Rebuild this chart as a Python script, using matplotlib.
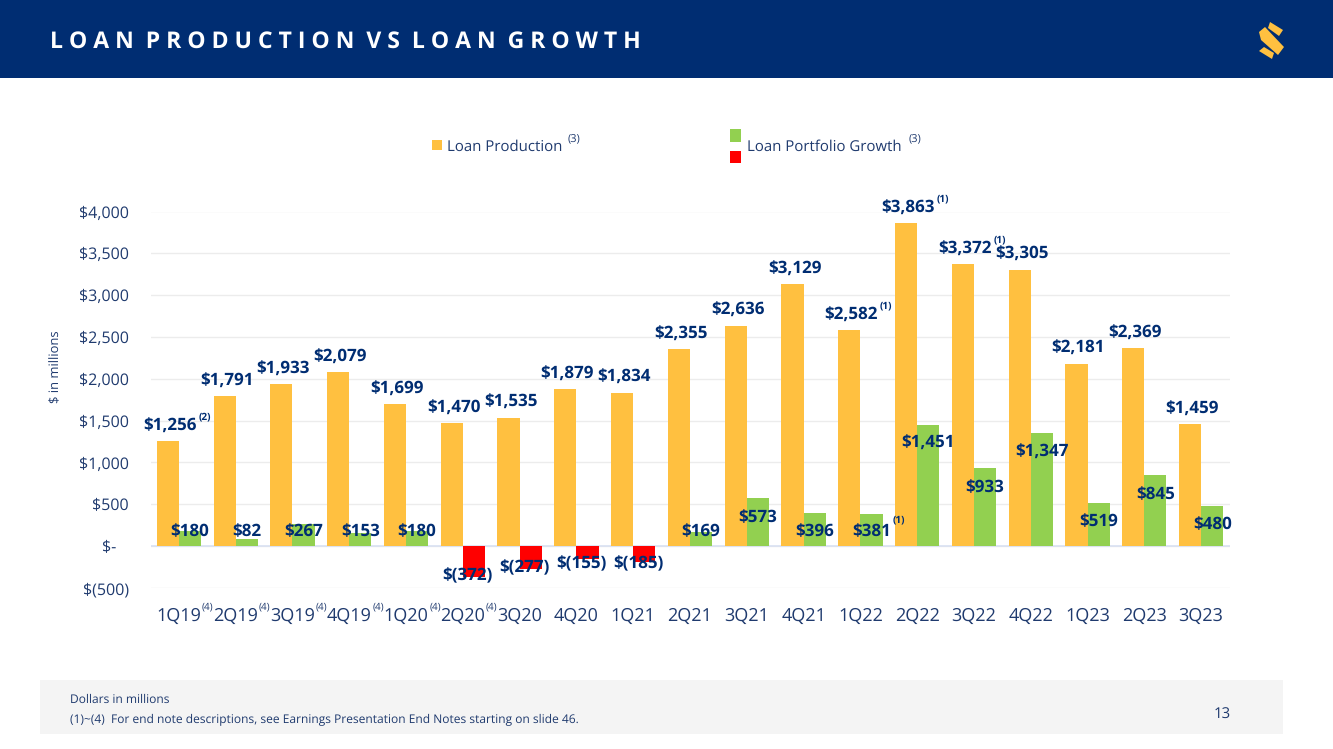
import matplotlib
matplotlib.use('Agg')
from matplotlib import pyplot as plt
from matplotlib.patches import Rectangle, Polygon

plt.rcParams['font.family'] = ['Open Sans', 'DejaVu Sans']
plt.rcParams['text.hinting'] = 'no_hinting'
plt.rcParams['text.hinting_factor'] = 1

#Chart data
quarters = ['1Q19', '2Q19', '3Q19', '4Q19', '1Q20', '2Q20', '3Q20', '4Q20', '1Q21', '2Q21',
            '3Q21', '4Q21', '1Q22', '2Q22', '3Q22', '4Q22', '1Q23', '2Q23', '3Q23']
production = [1256, 1791, 1933, 2079, 1699, 1470, 1535, 1879, 1834, 2355,
              2636, 3129, 2582, 3863, 3372, 3305, 2181, 2369, 1459]
growth = [180, 82, 267, 153, 180, -372, -277, -155, -185, 169,
          573, 396, 381, 1451, 933, 1347, 519, 845, 480]
y_ticks = [-500, 0, 500, 1000, 1500, 2000, 2500, 3000, 3500, 4000]
y_labels = ['$(500)', '$-   ', '$500', '$1,000', '$1,500', '$2,000', '$2,500', '$3,000', '$3,500', '$4,000']
production_notes = {'1Q19': '(2)', '1Q22': '(1)', '2Q22': '(1)', '3Q22': '(1)'}
quarter_notes = ['1Q19', '2Q19', '3Q19', '4Q19', '1Q20', '2Q20']

#Colors
navy = '#002D72'
text_blue = '#1F3A6E'
orange = '#FFC040'
green = '#92D050'
red = '#FF0000'

W, H = 1333, 749
fig = plt.figure(figsize=(W / 100, H / 100), dpi=100, facecolor='white')

#Overlay in pixel coordinates for the slide furniture
slide = fig.add_axes([0, 0, 1, 1])
slide.set_xlim(0, W)
slide.set_ylim(H, 0)
slide.axis('off')

slide.add_patch(Rectangle((0, 0), W, 78, color=navy, lw=0))
slide.text(50, 41.5, 'L O A N  P R O D U C T I O N  V S  L O A N  G R O W T H', color='white',
           fontsize=16.5, fontweight='bold', va='center', ha='left')

#Logo
for pts in ([(1270, 22), (1283, 30), (1279, 36), (1268, 28)],
            [(1259, 32), (1265, 27), (1284, 47), (1278, 55), (1261, 40)],
            [(1259, 51), (1264, 47), (1274, 53), (1272, 59)]):
    slide.add_patch(Polygon(pts, closed=True, color=orange, lw=0))

#Legend
slide.add_patch(Rectangle((432, 140), 10, 10, color=orange, lw=0))
slide.text(447, 147, 'Loan Production', color=text_blue, fontsize=10.9, va='center')
slide.text(568, 139, '(3)', color=text_blue, fontsize=8, va='center')
slide.add_patch(Rectangle((730, 129), 11, 13, color=green, lw=0))
slide.add_patch(Rectangle((730, 151), 11, 12, color=red, lw=0))
slide.text(747, 147, 'Loan Portfolio Growth', color=text_blue, fontsize=10.9, va='center')
slide.text(909, 139, '(3)', color=text_blue, fontsize=8, va='center')

#Footer
slide.add_patch(Rectangle((40, 680), 1243, 54, color='#F4F4F4', lw=0))
slide.text(70, 700, 'Dollars in millions', color=text_blue, fontsize=8.5, va='center')
slide.text(70, 720, '(1)~(4)  For end note descriptions, see Earnings Presentation End Notes starting on slide 46.',
           color=text_blue, fontsize=8.5, va='center')
slide.text(1222, 715, '13', color=text_blue, fontsize=11, va='center', ha='center')

slide.text(55.5, 367, '$ in millions', color=text_blue, fontsize=9.5, rotation=90, va='center', ha='center')

#Main chart, placed so the gridlines land on the slide's pixel rows
left, right, top, bottom = 150.5, 1229.5, 211.5, 588
ax = fig.add_axes([left / W, 1 - bottom / H, (right - left) / W, (bottom - top) / H])
ax.patch.set_alpha(0)
x = list(range(len(quarters)))
width = 0.39

ax.set_axisbelow(True)
ax.grid(axis='y', color='#ECECEC', lw=1)
ax.axhline(0, color='#D9E1F2', lw=1.2, zorder=1)

ax.bar([i - width / 2 for i in x], production, width, color=orange, zorder=2)
ax.bar([i + width / 2 for i in x], growth, width, color=[green if v > 0 else red for v in growth], zorder=2)

ax.set_xlim(-0.5, len(quarters) - 0.5)
ax.set_ylim(-500, 4000)
ax.set_xticks(x)
ax.set_xticklabels(quarters, color=text_blue, fontsize=13.2)
ax.set_yticks(y_ticks)
ax.set_yticklabels(y_labels, color=text_blue, fontsize=11.3)
ax.tick_params(axis='both', length=0)
ax.tick_params(axis='x', pad=14)
ax.tick_params(axis='y', pad=15.5)
for side in ax.spines:
    ax.spines[side].set_visible(False)

label_style = dict(textcoords='offset pixels', color=navy, fontsize=12, fontweight='bold',
                   ha='center', va='center', zorder=5, annotation_clip=False)
note_style = dict(textcoords='offset pixels', color=navy, fontsize=7, fontweight='bold',
                  ha='center', va='center', zorder=5, annotation_clip=False)

for i, name in enumerate(quarters):
    #Production labels above the bars
    ax.annotate(f'${production[i]:,}', (i - width / 2, production[i]), xytext=(2, 15), **label_style)
    if name in production_notes:
        ax.annotate(production_notes[name], (i - width / 2, production[i]), xytext=(37, 24), **note_style)

    #Growth labels: small bars sit on the baseline, big ones inside the bar, negatives at the end
    g = growth[i]
    if g < 0:
        ax.annotate(f'$({-g})', (i + width / 2, min(g, -225)), xytext=(-6, 1), **label_style)
    elif g < 420:
        ax.annotate(f'${g}', (i + width / 2, 0), xytext=(0, 15), **label_style)
    else:
        ax.annotate(f'${g:,}', (i + width / 2, g), xytext=(0, -19), **label_style)

#Small note next to the 1Q22 growth label
ax.annotate('(1)', (quarters.index('1Q22') + width / 2, 0), xytext=(27, 26), **note_style)

#Superscripts on the early quarter labels
for name in quarter_notes:
    ax.annotate('(4)', (quarters.index(name), -500), xytext=(29, -19), textcoords='offset pixels',
                color=text_blue, fontsize=7.5, ha='center', va='center', annotation_clip=False)

fig.savefig('out.png', dpi=100)
